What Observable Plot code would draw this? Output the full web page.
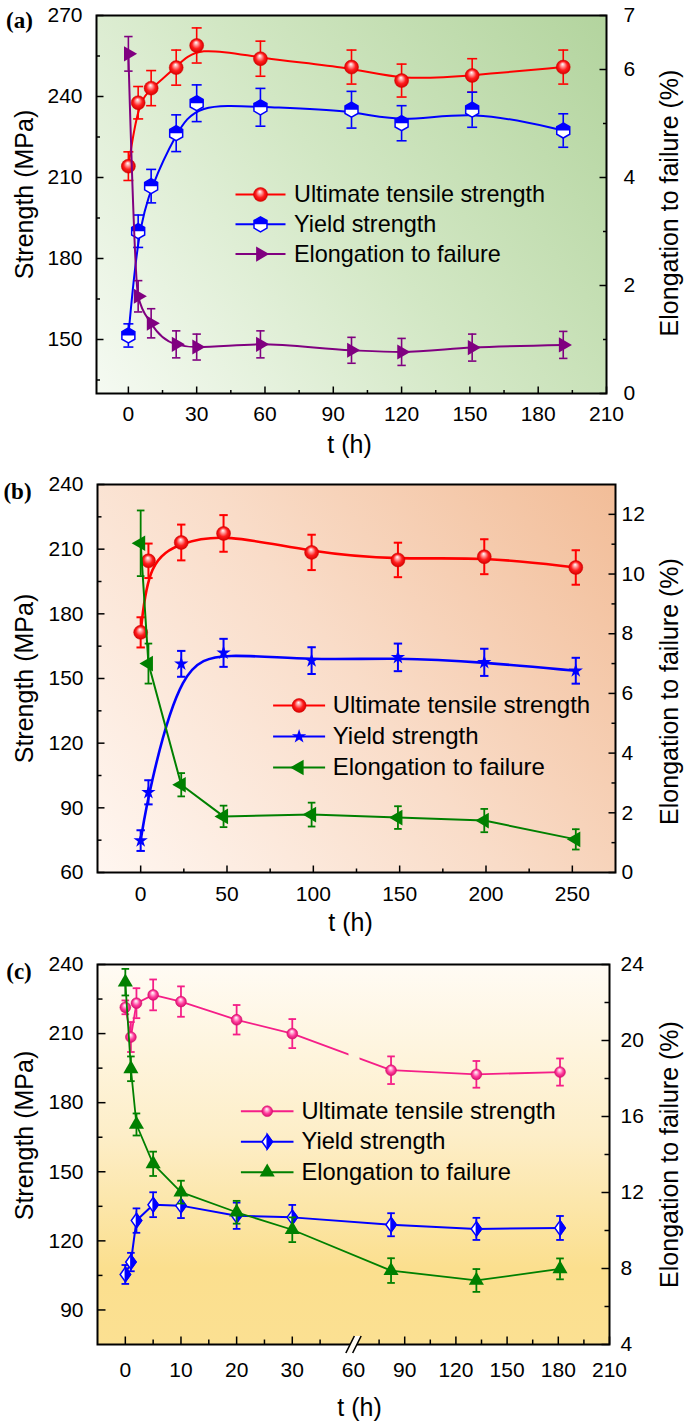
<!DOCTYPE html>
<html lang="en">
<head>
<meta charset="utf-8">
<title>Strength and elongation versus aging time</title>
<script src="https://cdn.jsdelivr.net/npm/d3@7"></script>
<script src="https://cdn.jsdelivr.net/npm/@observablehq/plot@0.6"></script>
<style>
  html, body { margin: 0; padding: 0; background: #fff; }
  #figure { position: relative; width: 685px; height: 1422px; overflow: hidden; }
  #figure svg { position: absolute; left: 0; max-width: none; }
</style>
</head>
<body>
<div id="figure"></div>
<script>
// ---------- Panel (a) ----------
const timeA = [0, 4.3, 10, 21, 30, 58, 98, 120, 151, 191];
const utsA = [214.2, 237.7, 243.1, 250.7, 258.9, 254.0, 250.9, 245.9, 247.8, 250.9];
const utsErrA = [5.3, 6.0, 6.5, 6.5, 6.5, 6.5, 6.3, 6.1, 6.2, 6.3];
const ysA = [151.5, 190.1, 206.8, 226.4, 237.5, 236.0, 235.1, 230.1, 235.1, 227.4];
const ysErrA = [4.3, 6.0, 6.2, 6.8, 6.8, 7.0, 6.8, 6.5, 6.5, 6.2];
const elongA = [6.29, 1.80, 1.30, 0.91, 0.86, 0.91, 0.80, 0.77, 0.85, 0.90];
const elongErrA = [0.32, 0.29, 0.27, 0.25, 0.24, 0.25, 0.24, 0.25, 0.25, 0.25];
const xTicksA = [0, 30, 60, 90, 120, 150, 180, 210];
const xMinorA = [15, 45, 75, 105, 135, 165, 195];
const yTicksA = [150, 180, 210, 240, 270];
const yMinorA = [135, 165, 195, 225, 255];
const rTicksA = [0, 2, 4, 6, 7];
const rMinorA = [1, 3, 5];

// ---------- Panel (b) ----------
const timeB = [0, 4.5, 23.5, 48, 99, 149, 199, 252];
const utsB = [171.4, 204.6, 213.1, 217.3, 208.5, 205.0, 206.5, 201.5];
const utsErrB = [7.0, 8.0, 8.3, 8.5, 8.2, 8.0, 8.1, 8.0];
const ysB = [74.8, 97.2, 156.8, 161.9, 158.3, 159.8, 157.5, 153.6];
const ysErrB = [4.8, 5.6, 6.0, 6.5, 6.2, 6.4, 6.3, 6.0];
const elongB = [11.03, 7.00, 2.94, 1.88, 1.94, 1.84, 1.74, 1.11];
const elongErrB = [1.10, 0.67, 0.39, 0.36, 0.40, 0.38, 0.39, 0.34];
const xTicksB = [0, 50, 100, 150, 200, 250];
const xMinorB = [25, 75, 125, 175, 225];
const yTicksB = [60, 90, 120, 150, 180, 210, 240];
const yMinorB = [75, 105, 135, 165, 195, 225];
const rTicksB = [0, 2, 4, 6, 8, 10, 12];
const rMinorB = [1, 3, 5, 7, 9, 11];

// ---------- Panel (c) ----------
const timeC = [0, 1, 2, 5, 10, 20, 30, 82, 132, 181];
const utsC = [221.4, 208.5, 223.2, 226.8, 223.9, 216.0, 210.0, 194.1, 192.3, 193.3];
const utsErrC = [3.0, 6.5, 6.5, 6.7, 6.6, 6.4, 6.3, 6.0, 5.8, 5.9];
const ysC = [105.4, 110.8, 128.8, 135.7, 135.3, 130.9, 130.2, 127.0, 125.2, 125.6];
const ysErrC = [4.1, 4.0, 5.3, 5.4, 5.4, 5.7, 5.4, 5.0, 4.8, 5.2];
const elongC = [23.07, 18.51, 15.58, 13.51, 12.02, 10.96, 10.04, 7.89, 7.37, 7.98];
const elongErrC = [0.70, 0.65, 0.58, 0.64, 0.60, 0.60, 0.65, 0.65, 0.60, 0.55];
const xTicksC = [0, 10, 20, 30, 60, 90, 120, 150, 180, 210];
const xTickMarksC = [0, 10, 20, 30, 90, 120, 150, 180, 210];
const xMinorC = [5, 15, 25, 35, 75, 105, 135, 165, 195];
const yTicksC = [90, 120, 150, 180, 210, 240];
const yMinorC = [105, 135, 165, 195, 225];
const rTicksC = [4, 8, 12, 16, 20, 24];
const rMinorC = [6, 10, 14, 18, 22];
const breakC = [41, 60]; // time axis is cut between these two values

const legendLabels = ["Ultimate tensile strength", "Yield strength", "Elongation to failure"];

const RED = "#ff0000", BLUE = "#0000ff", PURPLE = "#800080", GREEN = "#008000", PINK = "#f51e88";
const FONT = "'Liberation Sans', Arial, Helvetica, sans-serif";
const SERIF = "'Liberation Serif', 'Times New Roman', serif";

// ---------- helpers ----------
const rad = size => Math.sqrt(size / Math.PI);
const SYM = {
  hbar: {draw(c, s) { const r = rad(s); c.moveTo(-r, 0); c.lineTo(r, 0); }},
  tickLeft: {draw(c, s) { const r = rad(s); c.moveTo(0, 0); c.lineTo(r, 0); }},
  tickRight: {draw(c, s) { const r = rad(s); c.moveTo(0, 0); c.lineTo(-r, 0); }},
  tickBottom: {draw(c, s) { const r = rad(s); c.moveTo(0, 0); c.lineTo(0, -r); }},
  hex: {draw(c, s) {
    const r = rad(s), w = r * 0.866;
    c.moveTo(0, -r); c.lineTo(w, -r / 2); c.lineTo(w, r / 2); c.lineTo(0, r);
    c.lineTo(-w, r / 2); c.lineTo(-w, -r / 2); c.closePath();
  }},
  hexTop: {draw(c, s) {
    const r = rad(s), w = r * 0.866;
    c.moveTo(0, -r); c.lineTo(w, -r / 2); c.lineTo(w, 0); c.lineTo(-w, 0); c.lineTo(-w, -r / 2); c.closePath();
  }},
  diamond: {draw(c, s) {
    const r = rad(s), w = r * 0.72;
    c.moveTo(0, -r); c.lineTo(w, 0); c.lineTo(0, r); c.lineTo(-w, 0); c.closePath();
  }},
  diamondRight: {draw(c, s) {
    const r = rad(s), w = r * 0.72;
    c.moveTo(0, -r); c.lineTo(w, 0); c.lineTo(0, r); c.closePath();
  }},
  breakGap: {draw(c, s) {
    const r = rad(s), k = r * 0.5, g = r * 0.4;
    c.moveTo(-g - k, r); c.lineTo(-g + k, -r); c.lineTo(g + k, -r); c.lineTo(g - k, r); c.closePath();
  }},
  breakLines: {draw(c, s) {
    const r = rad(s), k = r * 0.5, g = r * 0.4;
    c.moveTo(-g - k, r); c.lineTo(-g + k, -r);
    c.moveTo(g - k, r); c.lineTo(g + k, -r);
  }}
};

// maps a right-axis value onto the left-axis domain (and back)
function linearMap([a0, a1], [b0, b1]) {
  const f = v => b0 + (v - a0) * (b1 - b0) / (a1 - a0);
  f.invert = u => a0 + (u - b0) * (a1 - a0) / (b1 - b0);
  return f;
}

function series(t, v, e, map = d => d) {
  return t.map((x, i) => ({t: x, v: map(v[i]), lo: map(v[i] - e[i]), hi: map(v[i] + e[i])}));
}

function drawSeries(data, color, lineOpts, markers, err) {
  const bar = {stroke: color, strokeWidth: err.width};
  return [
    Plot.line(data, {x: "t", y: "v", stroke: color, strokeWidth: 2, ...lineOpts}),
    Plot.ruleX(data, {x: "t", y1: "lo", y2: "hi", ...bar}),
    Plot.dot(data, {x: "t", y: "lo", symbol: SYM.hbar, r: err.cap, ...bar}),
    Plot.dot(data, {x: "t", y: "hi", symbol: SYM.hbar, r: err.cap, ...bar}),
    ...markers.map(m => Plot.dot(data, {x: "t", y: "v", ...m}))
  ];
}

function axes(o) {
  const tick = {stroke: "black", strokeWidth: 1.5};
  const rt = o.rTicks.map(o.toLeft), rm = o.rMinor.map(o.toLeft);
  const fs = 21;
  return [
    Plot.dot(o.yTicks, {y: d => d, frameAnchor: "left", symbol: SYM.tickLeft, r: o.major, ...tick}),
    Plot.dot(o.yMinor, {y: d => d, frameAnchor: "left", symbol: SYM.tickLeft, r: o.minor, ...tick}),
    Plot.dot(rt, {y: d => d, frameAnchor: "right", symbol: SYM.tickRight, r: o.major, ...tick}),
    Plot.dot(rm, {y: d => d, frameAnchor: "right", symbol: SYM.tickRight, r: o.minor, ...tick}),
    Plot.dot(o.xTickMarks || o.xTicks, {x: d => d, frameAnchor: "bottom", symbol: SYM.tickBottom, r: o.major, ...tick}),
    Plot.dot(o.xMinor, {x: d => d, frameAnchor: "bottom", symbol: SYM.tickBottom, r: o.minor, ...tick}),
    Plot.axisY(o.yTicks, {anchor: "left", tickSize: 0, tickPadding: o.pad.left, fontSize: fs, label: null, tickFormat: d => String(d)}),
    Plot.axisY(rt, {anchor: "right", tickSize: 0, tickPadding: o.pad.right, fontSize: fs, label: null,
      tickFormat: d => String(Math.round(o.toLeft.invert(d) * 1000) / 1000)}),
    Plot.axisX(o.xTicks, {anchor: "bottom", tickSize: 0, tickPadding: o.pad.bottom, fontSize: fs, label: null, tickFormat: d => String(d)})
  ];
}

function titles(o) {
  const t = {text: d => d, fontSize: 25, textAnchor: "middle", lineAnchor: "middle"};
  return [
    Plot.text(["Strength (MPa)"], {...t, frameAnchor: "left", rotate: -90, dx: o.left[0], dy: o.left[1]}),
    Plot.text(["Elongation to failure (%)"], {...t, frameAnchor: "right", rotate: -90, dx: o.right[0], dy: o.right[1]}),
    Plot.text(["t (h)"], {...t, frameAnchor: "bottom", dx: o.bottom[0], dy: o.bottom[1]}),
    Plot.text([o.tag], {text: d => d, frameAnchor: "top-left", textAnchor: "middle", lineAnchor: "middle",
      dx: o.tagPos[0], dy: o.tagPos[1], fontSize: 23, fontWeight: "bold", fontFamily: SERIF})
  ];
}

function legend(entries, L) {
  return entries.flatMap((e, i) => {
    const at = {frameAnchor: "top-left", dy: L.y + i * L.step};
    return [
      Plot.dot([0], {...at, dx: L.cx, symbol: SYM.hbar, r: L.half, stroke: e.color, strokeWidth: 2}),
      ...e.markers.map(m => Plot.dot([0], {...at, dx: L.cx, ...m})),
      Plot.text([e.label], {...at, dx: L.tx, text: d => d, textAnchor: "start", lineAnchor: "middle", fontSize: L.fs})
    ];
  });
}

function sphere(id, c0, c1, c2) {
  return `<radialGradient id="${id}" cx="0.5" cy="0.5" r="0.5" fx="0.45" fy="0.28">
    <stop offset="0" stop-color="#ffffff"/><stop offset="0.28" stop-color="${c0}"/>
    <stop offset="0.62" stop-color="${c1}"/><stop offset="1" stop-color="${c2}"/></radialGradient>`;
}

function mount(svg, top, defs) {
  d3.select(svg).style("top", top + "px").insert("defs", ":first-child").html(defs);
  document.getElementById("figure").appendChild(svg);
}

const style = {fontFamily: FONT, fontSize: "21px", color: "#000", background: "transparent", overflow: "visible"};

// ---------- draw (a) ----------
{
  const W = 685, H = 460, m = {top: 15, right: 79, bottom: 67, left: 96};
  const yDom = [130, 270], rDom = [0, 7];
  const toLeft = linearMap(rDom, yDom);
  const mk = {
    uts: [{symbol: "circle", r: 7, fill: "url(#a-sph)", stroke: "#d00000", strokeWidth: 0.5}],
    ys: [{symbol: SYM.hex, r: 7.5, fill: "white", stroke: BLUE, strokeWidth: 1.5},
         {symbol: SYM.hexTop, r: 7.5, fill: BLUE}],
    el: [{symbol: "triangle", rotate: 90, r: 5.6, fill: PURPLE}]
  };
  const err = {width: 1.6, cap: 5};
  const svg = Plot.plot({
    width: W, height: H, marginTop: m.top, marginRight: m.right, marginBottom: m.bottom, marginLeft: m.left,
    x: {domain: [-14, 210]}, y: {domain: yDom}, style,
    marks: [
      Plot.frame({fill: "url(#a-bg)", stroke: "none"}),
      ...drawSeries(series(timeA, utsA, utsErrA), RED, {curve: "basis"}, mk.uts, err),
      ...drawSeries(series(timeA, ysA, ysErrA), BLUE, {curve: "basis"}, mk.ys, err),
      ...drawSeries(series(timeA, elongA, elongErrA, toLeft), PURPLE, {curve: "monotone-x"}, mk.el, {width: 1.6, cap: 4.2}),
      ...legend([
        {label: legendLabels[0], color: RED, markers: mk.uts},
        {label: legendLabels[1], color: BLUE, markers: mk.ys},
        {label: legendLabels[2], color: PURPLE, markers: mk.el}
      ], {y: 179, step: 29.8, cx: 164, half: 25, tx: 197.5, fs: 23.4}),
      Plot.frame({stroke: "black", strokeWidth: 2}),
      ...axes({xTicks: xTicksA, xMinor: xMinorA, yTicks: yTicksA, yMinor: yMinorA, rTicks: rTicksA, rMinor: rMinorA,
        toLeft, major: 7, minor: 3.5, pad: {left: 14, right: 17, bottom: 12.5}}),
      ...titles({left: [-72, -10], right: [63, -1.5], bottom: [-2, 51], tag: "(a)", tagPos: [-77, 5]})
    ]
  });
  mount(svg, 0, `
    <linearGradient id="a-bg" gradientUnits="userSpaceOnUse" x1="${m.left}" y1="${H - m.bottom}" x2="${W - m.right}" y2="${m.top}">
      <stop offset="0" stop-color="#f5faf2"/><stop offset="0.5" stop-color="#d2e7c4"/><stop offset="1" stop-color="#b3d49e"/>
    </linearGradient>
    ${sphere("a-sph", "#ff9c9c", "#ff1e1e", "#d80000")}`);
}

// ---------- draw (b) ----------
{
  const W = 685, H = 480, m = {top: 24, right: 70, bottom: 68, left: 97};
  const yDom = [60, 240], rDom = [0, 13];
  const toLeft = linearMap(rDom, yDom);
  const mk = {
    uts: [{symbol: "circle", r: 7, fill: "url(#b-sph)", stroke: "#d00000", strokeWidth: 0.5}],
    ys: [{symbol: "star", r: 4.5, fill: BLUE}],
    el: [{symbol: "triangle", rotate: -90, r: 5.8, fill: GREEN}]
  };
  const err = {width: 2, cap: 4.2};
  const svg = Plot.plot({
    width: W, height: H, marginTop: m.top, marginRight: m.right, marginBottom: m.bottom, marginLeft: m.left,
    x: {domain: [-25, 275]}, y: {domain: yDom}, style,
    marks: [
      Plot.frame({fill: "url(#b-bg)", stroke: "none"}),
      ...drawSeries(series(timeB, utsB, utsErrB), RED, {curve: "basis", strokeWidth: 2.6}, mk.uts, err),
      ...drawSeries(series(timeB, ysB, ysErrB), BLUE, {curve: "basis", strokeWidth: 2.6}, mk.ys, err),
      ...drawSeries(series(timeB, elongB, elongErrB, toLeft), GREEN, {curve: "linear", strokeWidth: 2}, mk.el, {width: 1.8, cap: 3.8}),
      ...legend([
        {label: legendLabels[0], color: RED, markers: mk.uts},
        {label: legendLabels[1], color: BLUE, markers: mk.ys},
        {label: legendLabels[2], color: GREEN, markers: mk.el}
      ], {y: 221, step: 31, cx: 201.6, half: 26, tx: 235.2, fs: 24}),
      Plot.frame({stroke: "black", strokeWidth: 2}),
      ...axes({xTicks: xTicksB, xMinor: xMinorB, yTicks: yTicksB, yMinor: yMinorB, rTicks: rTicksB, rMinor: rMinorB,
        toLeft, major: 7, minor: 4, pad: {left: 14, right: 6, bottom: 13.5}}),
      ...titles({left: [-73, 0], right: [54, 13], bottom: [-6, 50], tag: "(b)", tagPos: [-80, 7]})
    ]
  });
  mount(svg, 460, `
    <linearGradient id="b-bg" gradientUnits="userSpaceOnUse" x1="${m.left}" y1="${H - m.bottom}" x2="${W - m.right}" y2="${m.top}">
      <stop offset="0" stop-color="#fff6f0"/><stop offset="0.5" stop-color="#f9dcc8"/><stop offset="1" stop-color="#f2bd98"/>
    </linearGradient>
    ${sphere("b-sph", "#ff9c9c", "#ff1e1e", "#d80000")}`);
}

// ---------- draw (c) ----------
{
  const W = 685, H = 482, m = {top: 24, right: 76, bottom: 78, left: 97};
  const yDom = [75, 240], rDom = [4, 24];
  const toLeft = linearMap(rDom, yDom);
  const x0 = m.left, x1 = W - m.right, xMid = (x0 + x1) / 2;
  const mk = {
    uts: [{symbol: "circle", r: 5.4, fill: "url(#c-sph)", stroke: "#d8106e", strokeWidth: 0.6}],
    ys: [{symbol: SYM.diamond, r: 7.2, fill: "white", stroke: BLUE, strokeWidth: 1.5},
         {symbol: SYM.diamondRight, r: 7.2, fill: BLUE, stroke: BLUE, strokeWidth: 1.5}],
    el: [{symbol: "triangle", r: 5.6, fill: GREEN}]
  };
  const err = {width: 1.8, cap: 3.8};
  // short gap in the strength curve where it crosses the axis break
  const gapAtBreak = (index, scales, values, dims, context, next) => {
    const g = next(index, scales, values, dims, context);
    const doc = context.document, ns = "http://www.w3.org/2000/svg";
    const bx = scales.x(breakC[0]);
    const wrap = doc.createElementNS(ns, "g");
    const mask = doc.createElementNS(ns, "mask");
    mask.setAttribute("id", "c-gap");
    mask.setAttribute("maskUnits", "userSpaceOnUse");
    for (const [k, v] of Object.entries({x: 0, y: 0, width: dims.width, height: dims.height})) mask.setAttribute(k, v);
    const r1 = doc.createElementNS(ns, "rect");
    for (const [k, v] of Object.entries({x: 0, y: 0, width: dims.width, height: dims.height, fill: "white"})) r1.setAttribute(k, v);
    const r2 = doc.createElementNS(ns, "rect");
    for (const [k, v] of Object.entries({x: bx - 5, y: 0, width: 11, height: dims.height, fill: "black"})) r2.setAttribute(k, v);
    mask.append(r1, r2);
    g.setAttribute("mask", "url(#c-gap)");
    wrap.append(mask, g);
    return wrap;
  };
  const svg = Plot.plot({
    width: W, height: H, marginTop: m.top, marginRight: m.right, marginBottom: m.bottom, marginLeft: m.left,
    x: {type: "linear", domain: [-5, breakC[0], breakC[1], 210], range: [x0, xMid, xMid, x1]},
    y: {domain: yDom}, style,
    marks: [
      Plot.frame({fill: "url(#c-bg)", stroke: "none"}),
      ...drawSeries(series(timeC, utsC, utsErrC), PINK, {curve: "linear", strokeWidth: 1.8, render: gapAtBreak}, mk.uts, err),
      ...drawSeries(series(timeC, ysC, ysErrC), BLUE, {curve: "linear", strokeWidth: 2}, mk.ys, err),
      ...drawSeries(series(timeC, elongC, elongErrC, toLeft), GREEN, {curve: "linear", strokeWidth: 1.8}, mk.el, err),
      ...legend([
        {label: legendLabels[0], color: PINK, markers: mk.uts},
        {label: legendLabels[1], color: BLUE, markers: mk.ys},
        {label: legendLabels[2], color: GREEN, markers: mk.el}
      ], {y: 146.7, step: 30.5, cx: 169.7, half: 26.3, tx: 204, fs: 23.7}),
      Plot.frame({stroke: "black", strokeWidth: 2}),
      ...axes({xTicks: xTicksC, xTickMarks: xTickMarksC, xMinor: xMinorC, yTicks: yTicksC, yMinor: yMinorC,
        rTicks: rTicksC, rMinor: rMinorC, toLeft, major: 8, minor: 5, pad: {left: 14, right: 11, bottom: 17.5}}),
      Plot.dot([breakC[0]], {x: d => d, frameAnchor: "bottom", symbol: SYM.breakGap, r: 8.5, fill: "url(#c-bg)", stroke: "none"}),
      Plot.dot([breakC[0]], {x: d => d, frameAnchor: "bottom", symbol: SYM.breakLines, r: 8.5, stroke: "black", strokeWidth: 1.6}),
      ...titles({left: [-73, -19], right: [60, 0], bottom: [6, 63], tag: "(c)", tagPos: [-78.5, 7]})
    ]
  });
  mount(svg, 940, `
    <linearGradient id="c-bg" gradientUnits="userSpaceOnUse" x1="0" y1="${m.top}" x2="0" y2="${H - m.bottom}">
      <stop offset="0" stop-color="#fffbf4"/><stop offset="0.45" stop-color="#fdeec8"/><stop offset="0.8" stop-color="#fbdf8e"/><stop offset="1" stop-color="#fbe092"/>
    </linearGradient>
    ${sphere("c-sph", "#ffb0d6", "#ff3c9c", "#d8106e")}`);
}
</script>
</body>
</html>
